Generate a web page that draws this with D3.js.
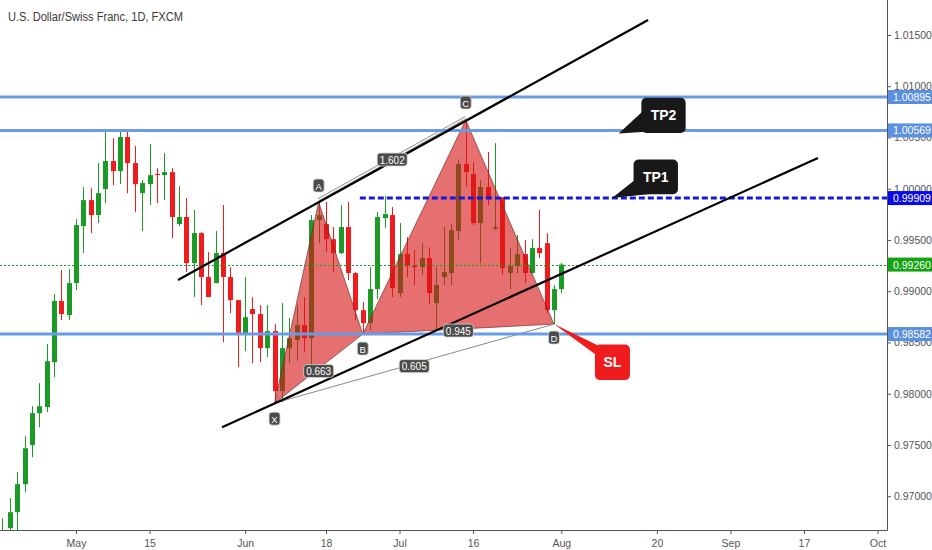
<!DOCTYPE html>
<html><head><meta charset="utf-8">
<script src="https://cdn.jsdelivr.net/npm/d3@7"></script>
<style>
body{margin:0;background:#fff;}
svg{display:block;font-family:"Liberation Sans",Arial,sans-serif;}
</style>
</head><body><svg id="c" width="932" height="550"></svg>
<script>
// ---- data (daily bars, index 0 = 1 May 2018, weekdays only) ----
const dayIndex = d3.range(-10, 67);
const opens = [0.96550,0.96688,0.96844,0.97117,0.97498,0.97810,0.97869,0.98308,0.98904,0.98767,
0.99079,0.99636,0.99889,0.99743,0.99996,1.00270,1.00172,1.00504,1.00250,0.99957,
1.00045,1.00143,1.00133,1.00162,0.99655,0.99724,0.99274,0.99567,0.99138,0.99079,
0.99372,0.99138,0.98913,0.98582,0.98826,0.98777,0.98445,0.98611,0.98025,0.98445,
0.98523,0.98669,0.98542,0.99694,0.99655,0.99508,0.99372,0.99626,0.99177,0.98815,
0.98689,0.99021,0.99714,0.99743,0.98982,0.99362,0.99255,0.99235,0.99323,0.98884,
0.99138,0.99177,0.99587,1.00240,1.00143,0.99665,1.00016,0.99610,0.99918,0.99177,
0.99245,0.99362,0.99177,0.99421,0.99469,0.98815,0.99021];
const highs = [0.96785,0.96981,0.97234,0.97586,0.97878,0.98103,0.98484,0.98972,0.99206,0.99216,
0.99704,1.00016,1.00006,1.00250,1.00572,1.00494,1.00572,1.00572,1.00416,1.00084,
1.00436,1.00201,1.00348,1.00201,1.00025,0.99909,0.99792,0.99577,0.99382,0.99587,
0.99841,0.99235,0.98913,0.99138,0.98943,0.98865,0.98865,0.98679,0.98884,0.98738,
0.98865,0.98943,0.99743,0.99870,0.99870,0.99626,0.99841,0.99870,0.99186,0.98894,
0.99235,0.99772,0.99928,0.99821,0.99665,0.99528,0.99401,0.99469,0.99430,0.99235,
0.99626,0.99655,1.00289,1.00670,1.00260,1.00084,1.00358,1.00445,0.99918,0.99421,
0.99548,0.99499,0.99508,0.99792,0.99567,0.99060,0.99274];
const lows = [0.96500,0.96660,0.96670,0.97040,0.97381,0.97673,0.97820,0.98161,0.98718,0.98718,
0.99011,0.99372,0.99567,0.99665,0.99860,1.00035,1.00045,0.99957,0.99772,0.99587,
0.99841,0.99860,0.99889,0.99518,0.99636,0.99186,0.98943,0.98865,0.98943,0.99079,
0.98503,0.98786,0.98259,0.98415,0.98298,0.98308,0.98357,0.97908,0.97917,0.98298,
0.98327,0.98405,0.98259,0.99469,0.99382,0.99186,0.99362,0.99109,0.98718,0.98582,
0.98621,0.98923,0.99616,0.98943,0.98943,0.99138,0.99060,0.99157,0.98874,0.98621,
0.99060,0.99060,0.99499,1.00016,0.99645,0.99274,0.99841,0.99597,0.99157,0.99021,
0.99177,0.99079,0.99177,0.99323,0.98786,0.98679,0.98982];
const closes = [0.96640,0.96844,0.97117,0.97468,0.97810,0.97878,0.98317,0.98904,0.98777,0.99079,
0.99645,0.99889,0.99743,0.99957,1.00270,1.00172,1.00504,1.00250,1.00045,1.00055,
1.00133,1.00133,1.00162,0.99724,0.99724,0.99274,0.99567,0.99138,0.98943,0.99372,
0.99138,0.98913,0.98582,0.98747,0.98777,0.98445,0.98611,0.98025,0.98445,0.98542,
0.98669,0.98542,0.99694,0.99743,0.99508,0.99372,0.99626,0.99177,0.98815,0.98689,
0.99021,0.99724,0.99753,0.99031,0.99362,0.99245,0.99235,0.99323,0.98982,0.99060,
0.99186,0.99597,1.00240,1.00162,0.99665,1.00016,0.99909,0.99625,0.99225,0.99245,
0.99362,0.99177,0.99421,0.99372,0.98815,0.99021,0.99260];

const xTickIdx = [0,10,23,34,44,54,66,79,89,99,109];
const xTickLabels = ["May","15","Jun","18","Jul","16","Aug","20","Sep","17","Oct"];
const yTicks = [0.970,0.975,0.980,0.985,0.990,0.995,1.000,1.005,1.010,1.015];

const supportLevels = [1.00895, 1.00569, 0.98582];
const tp1Level = 0.99909;
const tp1StartIdx = 38.6;
const lastClose = 0.99260;

const patternNames = ["X","A","B","C","D"];
const patternIdx = [27,33,39,53,65];
const patternPrice = [0.97908,0.99870,0.98582,1.00670,0.98679];
const ratioTexts = ["0.663","1.602","0.945","0.605"];
const ratioPairs = [[0,2],[1,3],[2,4],[0,4]];

const channelUpper = [[13.87,0.99110],[77.8,1.01646]];
const channelLower = [[19.86,0.97673],[100.9,1.00300]];

const calloutTexts = ["TP2","TP1","SL"];
const calloutAnchorIdx = [73.8, 72.9, 65];
const calloutAnchorPrice = [1.00540, 0.99909, 0.98679];

// ---- layout ----
const W = 932, H = 550, plotR = 887, plotB = 530;
const svg = d3.select("#c");
const x = d3.scaleLinear().domain([0,109]).range([76,877.5]);
const y = d3.scaleLinear().domain([0.970,1.015]).range([496.2,35]);

svg.append("rect").attr("width",W).attr("height",H).attr("fill","#fff");
svg.append("defs").append("clipPath").attr("id","pc")
  .append("rect").attr("x",0).attr("y",0).attr("width",plotR).attr("height",plotB);
const plot = svg.append("g").attr("clip-path","url(#pc)");

const GREEN = "#1b9a26", RED = "#ee1c1c";
const bars = dayIndex.map((d,k)=>({i:d,o:opens[k],h:highs[k],l:lows[k],c:closes[k]}));

// candles
const cg = plot.append("g");
cg.selectAll("line").data(bars).join("line")
  .attr("x1",d=>Math.round(x(d.i))+0.5).attr("x2",d=>Math.round(x(d.i))+0.5)
  .attr("y1",d=>y(d.h)).attr("y2",d=>y(d.l))
  .attr("stroke",d=>d.c>=d.o?GREEN:RED).attr("stroke-width",1);
cg.selectAll("rect").data(bars).join("rect")
  .attr("x",d=>Math.round(x(d.i))-2).attr("width",5)
  .attr("y",d=>y(Math.max(d.o,d.c)))
  .attr("height",d=>Math.max(1,Math.abs(y(d.o)-y(d.c))))
  .attr("fill",d=>d.c>=d.o?GREEN:RED);

// harmonic pattern
const P = patternNames.map((n,k)=>({n, px:x(patternIdx[k]), py:y(patternPrice[k])}));
const tri = (a,b,c)=>[P[a],P[b],P[c]].map(p=>p.px+","+p.py).join(" ");
plot.append("polygon").attr("points",tri(0,1,2))
  .attr("fill","rgba(214,22,22,0.62)").attr("stroke","rgba(110,40,40,0.8)").attr("stroke-width",0.8);
plot.append("polygon").attr("points",tri(2,3,4))
  .attr("fill","rgba(214,22,22,0.62)").attr("stroke","rgba(110,40,40,0.8)").attr("stroke-width",0.8);
// X-D line
plot.append("line").attr("x1",P[0].px).attr("y1",P[0].py).attr("x2",P[4].px).attr("y2",P[4].py)
  .attr("stroke","#8a8a8a").attr("stroke-width",1);
// A-C double line
const acOff = -2.5;
plot.append("line").attr("x1",P[1].px).attr("y1",P[1].py+acOff).attr("x2",P[3].px).attr("y2",P[3].py+acOff)
  .attr("stroke","#8a8a8a").attr("stroke-width",3.2);
plot.append("line").attr("x1",P[1].px).attr("y1",P[1].py+acOff).attr("x2",P[3].px).attr("y2",P[3].py+acOff)
  .attr("stroke","#fff").attr("stroke-width",1.4);

// horizontal levels
supportLevels.forEach(v=>{
  plot.append("line").attr("x1",0).attr("x2",plotR).attr("y1",y(v)).attr("y2",y(v))
    .attr("stroke","#6a9be6").attr("stroke-width",3);
});
plot.append("line").attr("x1",0).attr("x2",plotR).attr("y1",Math.round(y(lastClose))+0.5).attr("y2",Math.round(y(lastClose))+0.5)
  .attr("stroke","#1e9e1e").attr("stroke-width",1.2).attr("stroke-dasharray","2,2");
plot.append("line").attr("x1",x(tp1StartIdx)).attr("x2",plotR).attr("y1",y(tp1Level)).attr("y2",y(tp1Level))
  .attr("stroke","#1818dc").attr("stroke-width",3).attr("stroke-dasharray","6,3");

// channel lines
[channelUpper, channelLower].forEach(c=>{
  plot.append("line").attr("x1",x(c[0][0])).attr("y1",y(c[0][1])).attr("x2",x(c[1][0])).attr("y2",y(c[1][1]))
    .attr("stroke","#000").attr("stroke-width",2.2);
});

// ratio labels
ratioPairs.forEach((pr,k)=>{
  const a=P[pr[0]], b=P[pr[1]];
  const cx=(a.px+b.px)/2, cy=(a.py+b.py)/2 + (k===1?-1:(k===3?3:(k===0?3:2)));
  const g=plot.append("g");
  g.append("rect").attr("x",cx-15).attr("y",cy-7).attr("width",30).attr("height",13).attr("rx",3)
    .attr("fill","#4b4b4b").attr("stroke","#d8d8d8").attr("stroke-width",0.8);
  g.append("text").attr("x",cx).attr("y",cy+3.5).attr("text-anchor","middle")
    .attr("font-size",10).attr("fill","#fff").text(ratioTexts[k]);
});
// point labels
const ptOff = [16,-16,15,-17,14];
P.forEach((p,k)=>{
  const cy = p.py + ptOff[k];
  const g=plot.append("g");
  g.append("rect").attr("x",p.px-5.5).attr("y",cy-7).attr("width",11).attr("height",13).attr("rx",3)
    .attr("fill","#4b4b4b").attr("stroke","#d8d8d8").attr("stroke-width",0.8);
  g.append("text").attr("x",p.px).attr("y",cy+3.5).attr("text-anchor","middle")
    .attr("font-size",9.5).attr("fill","#fff").text(p.n);
});

// callouts (box offsets relative to anchor, in px)
const calloutBox = [[22.7,-35.7,44.3,35.4],[21.5,-38.5,44.4,34.7],[41,20.5,35,35.5]];
const calloutTail = [[[26,-24],[31,-2]],[[24,-19],[38,-4]],[[43,21],[45,33]]];
const calloutFill = ["#181818","#181818","#ee1c1c"];
calloutTexts.forEach((t,k)=>{
  const ax=x(calloutAnchorIdx[k]), ay=y(calloutAnchorPrice[k]);
  const b=calloutBox[k], tl=calloutTail[k];
  const g=svg.append("g");
  g.append("polygon").attr("points",[[ax,ay],[ax+tl[0][0],ay+tl[0][1]],[ax+tl[1][0],ay+tl[1][1]]].map(p=>p.join(",")).join(" "))
    .attr("fill",calloutFill[k]);
  g.append("rect").attr("x",ax+b[0]).attr("y",ay+b[1]).attr("width",b[2]).attr("height",b[3]).attr("rx",5)
    .attr("fill",calloutFill[k]);
  g.append("text").attr("x",ax+b[0]+b[2]/2).attr("y",ay+b[1]+b[3]/2+5).attr("text-anchor","middle")
    .attr("font-size",14).attr("font-weight","bold").attr("fill","#fff").text(t);
});

// axes
const axR = svg.append("g").attr("transform",`translate(${plotR},0)`)
  .call(d3.axisRight(y).tickValues(yTicks).tickFormat(d3.format(".5f")).tickSize(4).tickPadding(3));
axR.select(".domain").remove();
axR.selectAll("text").attr("font-size",10.5).attr("fill","#555").attr("font-family","Liberation Sans, Arial, sans-serif");
axR.selectAll("line").attr("stroke","#555");
svg.append("line").attr("x1",plotR+0.5).attr("x2",plotR+0.5).attr("y1",0).attr("y2",plotB+0.5)
  .attr("stroke","#555").attr("stroke-width",1);

const axB = svg.append("g").attr("transform",`translate(0,${plotB})`)
  .call(d3.axisBottom(x).tickValues(xTickIdx).tickFormat((d,k)=>xTickLabels[k]).tickSize(4).tickPadding(6));
axB.select(".domain").remove();
axB.selectAll("text").attr("font-size",10.5).attr("fill","#555").attr("font-family","Liberation Sans, Arial, sans-serif");
axB.selectAll("line").attr("stroke","#555");
svg.append("line").attr("x1",0).attr("x2",plotR+0.5).attr("y1",plotB+0.5).attr("y2",plotB+0.5)
  .attr("stroke","#555").attr("stroke-width",1);

// price tags on right axis
const tagVals = [supportLevels[0], supportLevels[1], tp1Level, lastClose, supportLevels[2]];
const tagCols = ["#5b8fe0","#5b8fe0","#0a0ae6","#13a313","#5b8fe0"];
tagVals.forEach((v,k)=>{
  const cy=y(v);
  svg.append("rect").attr("x",plotR+1).attr("y",cy-7).attr("width",W-plotR-1).attr("height",14).attr("fill",tagCols[k]);
  svg.append("text").attr("x",plotR+6).attr("y",cy+4).attr("font-size",10.5).attr("fill","#fff")
    .text(d3.format(".5f")(v));
});

// title
svg.append("text").attr("x",8).attr("y",21).attr("font-size",12.5).attr("fill","#3a3a3a")
  .attr("textLength",175).attr("lengthAdjust","spacingAndGlyphs")
  .text("U.S. Dollar/Swiss Franc, 1D, FXCM");
</script>
</body></html>
